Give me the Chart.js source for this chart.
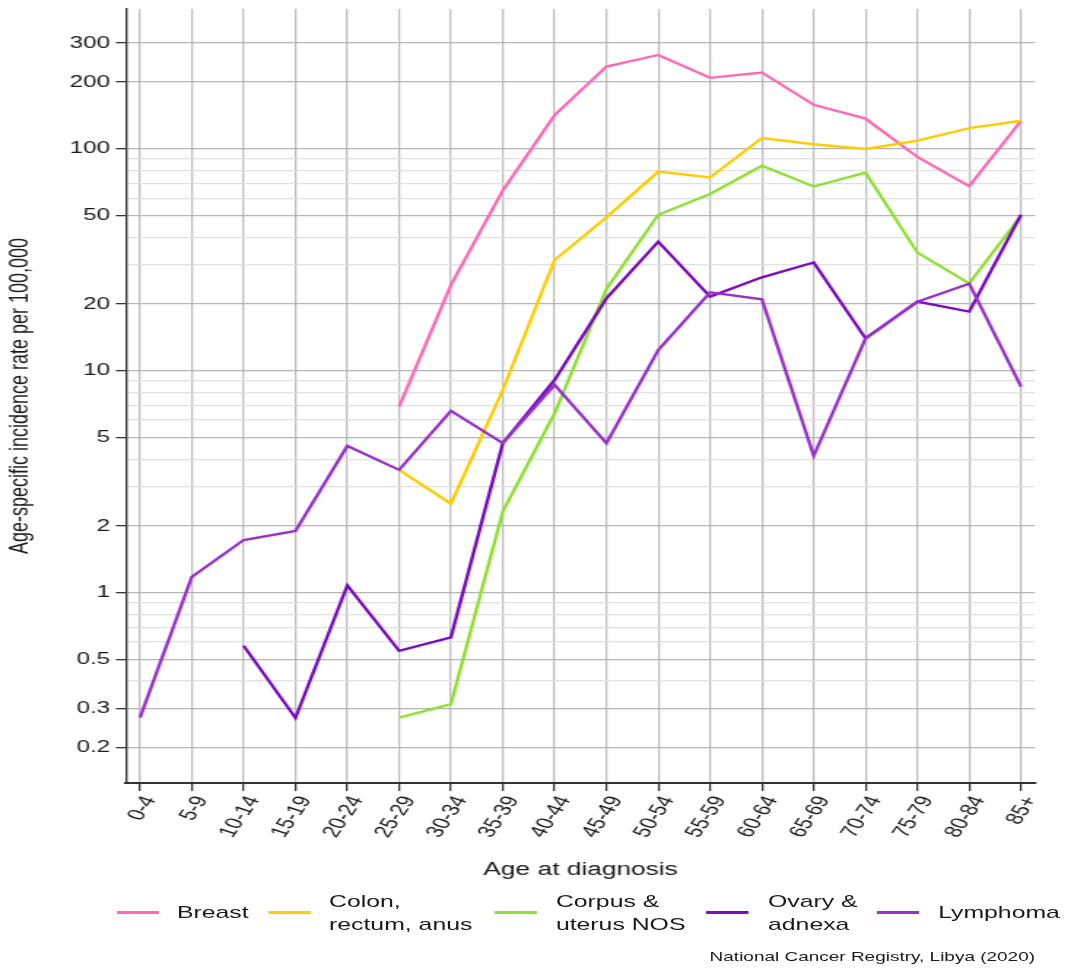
<!DOCTYPE html>
<html><head><meta charset="utf-8">
<script src="https://cdn.jsdelivr.net/npm/chart.js@4.4.1/dist/chart.umd.min.js"></script>
<style>
html,body{margin:0;padding:0;background:#fff;}
#wrap{position:absolute;left:0;top:0;width:732px;height:971px;transform:scaleX(1.459);transform-origin:0 0;font-family:"Liberation Sans",Arial,sans-serif;color:#1a1a1a;}
#c{position:absolute;left:0;top:0;}
.leg{position:absolute;font-size:17px;line-height:23px;white-space:nowrap;}
.sw{position:absolute;height:3px;width:29px;}
#note{position:absolute;right:22.6px;top:949px;font-size:13px;line-height:16px;white-space:nowrap;}
</style></head><body>
<div id="wrap">
<canvas id="c" width="732" height="971"></canvas>
<div id="legend"></div>
<div id="note">National Cancer Registry, Libya (2020)</div>
</div>
<script>
const ageGroups = ['0-4','5-9','10-14','15-19','20-24','25-29','30-34','35-39','40-44','45-49','50-54','55-59','60-64','65-69','70-74','75-79','80-84','85+'];
const breast   = [null,null,null,null,null,6.9,24.4,65,142,235,265,209,221,158,137,92,68,134];
const colon    = [null,null,null,null,null,3.58,2.52,8.2,31.6,49.2,79,74.3,112,105,100,109,124,134];
const corpus   = [null,null,null,null,null,0.274,0.315,2.32,6.44,23.4,50.5,62.7,84,67.7,78.2,34.1,24.8,50];
const ovary    = [null,null,0.577,0.273,1.08,0.548,0.63,4.72,9.1,21.2,38.2,21.6,26.4,30.8,14.0,20.5,18.5,50.5];
const lymphoma = [0.274,1.18,1.73,1.9,4.59,3.58,6.6,4.72,8.65,4.72,12.4,22.6,21.0,4.14,14.0,20.5,24.7,8.5];

const seriesNames  = [['Breast'], ['Colon,','rectum, anus'], ['Corpus &','uterus NOS'], ['Ovary &','adnexa'], ['Lymphoma']];
const seriesColors = ['#ff69b4', '#ffcc00', '#8ee032', '#7a0bc0', '#9932cc'];
const seriesData   = [breast, colon, corpus, ovary, lymphoma];

const yGridValues  = [0.2,0.3,0.4,0.5,0.6,0.7,0.8,0.9,1,2,3,4,5,6,7,8,9,10,20,30,40,50,60,70,80,90,100,200,300];
const yTickLabels  = [0.2,0.3,0.5,1,2,5,10,20,50,100,200,300];

const labeled = new Set(yTickLabels);
const FONT = '"Liberation Sans", Arial, sans-serif';

const datasets = seriesData.map((arr, k) => ({
  label: seriesNames[k].join(' '),
  data: arr.map((v, i) => ({x: i, y: v})),
  borderColor: seriesColors[k],
  backgroundColor: seriesColors[k],
  borderWidth: 2.4,
  pointRadius: 0,
  tension: 0,
  spanGaps: false,
  order: 4 - k
}));

new Chart(document.getElementById('c'), {
  type: 'line',
  data: { datasets },
  options: {
    responsive: false,
    animation: false,
    devicePixelRatio: 1,
    layout: { padding: { left: 3.6, top: 9, right: 22.6, bottom: 90 } },
    plugins: { legend: { display: false }, tooltip: { enabled: false } },
    scales: {
      x: {
        type: 'linear',
        min: -0.269,
        max: 17.27,
        afterBuildTicks: (axis) => { axis.ticks = ageGroups.map((_, i) => ({ value: i })); },
        afterFit: (axis) => { axis.height = 98; axis.paddingLeft = 0; axis.paddingRight = 0; },
        ticks: {
          autoSkip: false,
          maxRotation: 64,
          minRotation: 64,
          padding: 2,
          labelOffset: 7,
          color: '#1a1a1a',
          font: { family: FONT, size: 17 },
          callback: (v) => ageGroups[v]
        },
        grid: { color: '#bdbdbd', lineWidth: 1.3, tickColor: '#333', tickLength: 8, tickWidth: 1.3 },
        border: { display: true, color: '#333', width: 2 },
        title: { display: true, text: 'Age at diagnosis', color: '#1a1a1a', font: { family: FONT, size: 18 }, padding: 0 }
      },
      y: {
        type: 'logarithmic',
        min: 0.139,
        max: 427,
        afterBuildTicks: (axis) => { axis.ticks = yGridValues.map(v => ({ value: v })); },
        afterFit: (axis) => { axis.width = 82.8; axis.paddingTop = 0; axis.paddingBottom = 0; },
        ticks: {
          autoSkip: false,
          padding: 4,
          color: '#1a1a1a',
          font: { family: FONT, size: 16.5 },
          callback: (v) => labeled.has(v) ? String(v) : ''
        },
        grid: {
          color: (ctx) => (ctx.tick && labeled.has(ctx.tick.value)) ? '#b5b5b5' : '#e0e0e0',
          lineWidth: 1.3,
          tickColor: (ctx) => (ctx.tick && labeled.has(ctx.tick.value)) ? '#333' : 'rgba(0,0,0,0)',
          tickLength: 7,
          tickWidth: 1.3
        },
        border: { display: true, color: '#333', width: 1.4 },
        title: { display: true, text: 'Age-specific incidence rate per 100,000', color: '#1a1a1a', font: { family: FONT, size: 18 }, padding: 0 }
      }
    }
  }
});

// HTML legend built from the series arrays
const legendPos = [[79.5,121.3],[183.6,225.5],[339.3,381],[483.9,526.4],[601,643]];
const lg = document.getElementById('legend');
seriesNames.forEach((lines, k) => {
  const sw = document.createElement('div');
  sw.className = 'sw';
  sw.style.left = legendPos[k][0] + 'px';
  sw.style.top = '911px';
  sw.style.background = seriesColors[k];
  lg.appendChild(sw);
  const t = document.createElement('div');
  t.className = 'leg';
  t.style.left = legendPos[k][1] + 'px';
  t.style.top = (912.5 - lines.length * 11.5) + 'px';
  t.innerHTML = lines.join('<br>');
  lg.appendChild(t);
});
</script>
</body></html>
